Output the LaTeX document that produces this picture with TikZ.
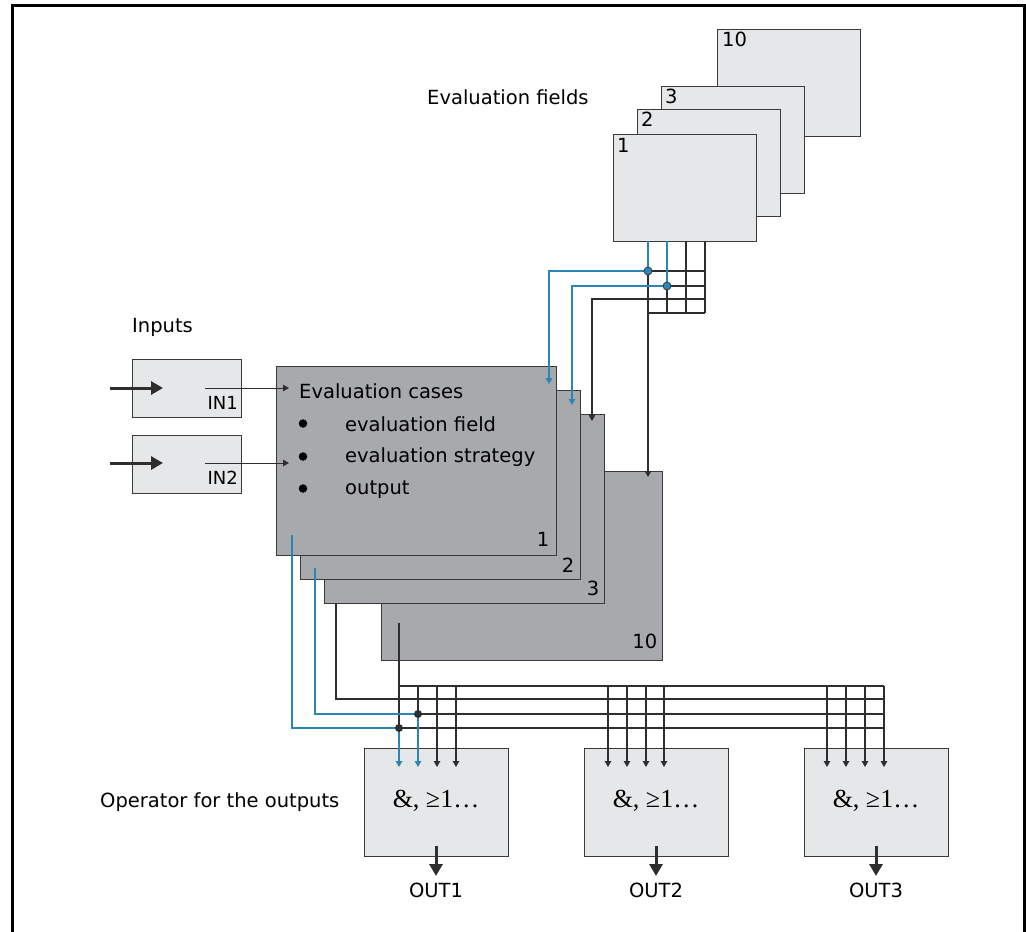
\documentclass[tikz,border=0pt]{standalone}
\usepackage{fontspec}
\setmainfont{DejaVu Sans}
\newfontfamily\opfont{Liberation Serif}
\usetikzlibrary{arrows.meta}
\definecolor{lightfill}{HTML}{E6E7E8}
\definecolor{darkfill}{HTML}{A7A9AC}
\definecolor{edge}{HTML}{3A3A3A}
\definecolor{wirec}{HTML}{2E2E2E}
\definecolor{bluec}{HTML}{2A86B5}
\newcommand\txtA{\fontsize{19.5}{23}\selectfont}
\newcommand\txtB{\fontsize{18}{21}\selectfont}
\begin{document}
\begin{tikzpicture}[x=1pt,y=-1pt,
  base box/.style={draw=edge, line width=1.4pt, inner sep=0pt, anchor=north west},
  fieldbox/.style={base box, fill=lightfill, minimum width=143pt, minimum height=107pt},
  casebox/.style={base box, fill=darkfill, minimum width=280pt, minimum height=189pt},
  inbox/.style={base box, fill=lightfill, minimum width=109pt, minimum height=58pt},
  opbox/.style={base box, fill=lightfill, minimum width=144pt, minimum height=108pt},
  wire/.style={draw=wirec, line width=1.2pt},
  bwire/.style={draw=bluec, line width=1.4pt},
  smalltip/.style={-{Triangle[length=6pt,width=6.5pt]}},
  bigtip/.style={draw=wirec, line width=3pt, -{Triangle[length=12pt,width=13pt]}},
  lab/.style={inner sep=0pt, font=\txtA},
  bulletdot/.style={circle, fill=black, inner sep=0pt, minimum size=8.5pt},
  dotb/.style={circle, fill=bluec, draw=edge, line width=0.8pt, inner sep=0pt, minimum size=8pt},
  dotk/.style={circle, fill=wirec, inner sep=0pt, minimum size=8pt},
]
\useasboundingbox (0,0) rectangle (1026,932);
\fill[white] (0,0) rectangle (1026,932);
\draw[line width=3pt, black] (12,932) -- (12,5) -- (1024,5) -- (1024,932);

% evaluation fields
\node[fieldbox] (F10) at (717,29) {};
\node[fieldbox] (F3) at (661,86) {};
\node[fieldbox] (F2) at (637,109) {};
\node[fieldbox] (F1) at (613,134) {};
\node[lab, anchor=north west] (F10l) at ([shift={(5,3)}]F10.north west) {10};
\node[lab, anchor=north west] (F3l) at ([shift={(4,3)}]F3.north west) {3};
\node[lab, anchor=north west] (F2l) at ([shift={(4,3)}]F2.north west) {2};
\node[lab, anchor=north west] (F1l) at ([shift={(4,4)}]F1.north west) {1};
\node[lab, anchor=base west] (fieldsT) at (427,104) {Evaluation fields};

% inputs
\node[lab, anchor=base west] (inputsT) at (132,332) {Inputs};
\node[inbox] (IN1) at (132,359) {};
\node[inbox] (IN2) at (132,435) {};
\node[inner sep=0pt, font=\txtB, anchor=base east] (IN1l) at (238,409) {IN1};
\node[inner sep=0pt, font=\txtB, anchor=base east] (IN2l) at (238,484) {IN2};
\coordinate (a1s) at (110,388); \coordinate (a1t) at (163,388);
\coordinate (a2s) at (110,463); \coordinate (a2t) at (163,463);
\draw[bigtip] (a1s) -- (a1t);
\draw[bigtip] (a2s) -- (a2t);

% evaluation cases
\node[casebox, minimum width=281pt] (C10) at (381,471) {};
\node[casebox] (C3) at (324,414) {};
\node[casebox] (C2) at (300,390) {};
\node[casebox] (C1) at (276,366) {};
\node[lab, anchor=south east] (C10l) at ([shift={(-6,-12)}]C10.south east) {10};
\node[lab, anchor=south east] (C3l) at ([shift={(-6,-8)}]C3.south east) {3};
\node[lab, anchor=south east] (C2l) at ([shift={(-7,-8)}]C2.south east) {2};
\node[lab, anchor=south east] (C1l) at ([shift={(-8,-10)}]C1.south east) {1};
\node[lab, anchor=base west] (casesT) at (299,398) {Evaluation cases};
\node[lab, anchor=base west] (it1) at (345,431) {evaluation field};
\node[lab, anchor=base west] (it2) at (345,462) {evaluation strategy};
\node[lab, anchor=base west] (it3) at (345,494) {output};
\node[bulletdot] (b1) at (303,423.5) {};
\node[bulletdot] (b2) at (303,456.5) {};
\node[bulletdot] (b3) at (303,488.5) {};

% input connectors
\coordinate (i1s) at (205,388); \coordinate (i1t) at (289,388);
\coordinate (i2s) at (205,463); \coordinate (i2t) at (289,463);
\draw[wire, line width=1pt, smalltip] (i1s) -- (i1t);
\draw[wire, line width=1pt, smalltip] (i2s) -- (i2t);

% operator boxes
\node[opbox] (O1) at (364,748) {};
\node[opbox] (O2) at (584,748) {};
\node[opbox] (O3) at (804,748) {};
\node[inner sep=0pt, font=\opfont\fontsize{26}{26}\selectfont, anchor=base] (O1t) at (436,807) {\&, ≥1…};
\node[inner sep=0pt, font=\opfont\fontsize{26}{26}\selectfont, anchor=base] (O2t) at (656,807) {\&, ≥1…};
\node[inner sep=0pt, font=\opfont\fontsize{26}{26}\selectfont, anchor=base] (O3t) at (876,807) {\&, ≥1…};
\node[lab, anchor=base west] (opT) at (100,807) {Operator for the outputs};
\foreach \n/\x in {1/436,2/656,3/876}{
  \coordinate (o\n s) at (\x,846);
  \coordinate (o\n t) at (\x,876);
  \draw[bigtip] (o\n s) -- (o\n t);
  \node[lab, anchor=base] (OUT\n) at (\x,897) {OUT\n};
}

% ---- top wiring
\coordinate (p1) at (648,241); \coordinate (p2) at (667,241);
\coordinate (p3) at (686,241); \coordinate (p4) at (705,241);
\coordinate (j1) at (648,271); \coordinate (j2) at (667,286);
\coordinate (r1) at (705,271); \coordinate (r2) at (705,286);
\coordinate (r3) at (705,299); \coordinate (r4) at (705,313);
\coordinate (g2) at (667,313); \coordinate (g3) at (686,313);
\coordinate (g1) at (648,313);
\coordinate (t1) at (549,384); \coordinate (t2) at (572,405);
\coordinate (t3) at (592,421); \coordinate (t4) at (648,477);
\draw[wire] (j1) -- (r1);
\draw[wire] (j2) -- (r2);
\draw[wire] (g1) -- (r4);
\draw[wire] (p3) -- (g3);
\draw[wire] (p4) -- (r4);
\draw[wire] (j2) -- (g2);
\draw[wire, smalltip] (r3) -| (t3);
\draw[wire, smalltip] (j1) -- (t4);
\draw[bwire, smalltip] (p1) -- (j1) -| (t1);
\draw[bwire, smalltip] (p2) -- (j2) -| (t2);
\node[dotb] (d1) at (j1) {};
\node[dotb] (d2) at (j2) {};

% ---- bottom wiring
\coordinate (s1) at (292,535); \coordinate (s2) at (315,568);
\coordinate (s3) at (336,603); \coordinate (s4) at (399,623);
\coordinate (k1) at (399,728); \coordinate (k2) at (418,714);
\coordinate (e1) at (884,686); \coordinate (e2) at (884,699);
\coordinate (e3) at (884,714); \coordinate (e4) at (884,728);
\coordinate (m1) at (399,767); \coordinate (m2) at (418,767);
\coordinate (h1) at (418,686);
\draw[wire] (s4) |- (e1);
\draw[wire] (s3) |- (e2);
\draw[wire] (k2) -- (e3);
\draw[wire] (k1) -- (e4);
\draw[wire] (h1) -- (k2);
\foreach \x in {437,456,608,627,646,664,827,846,865,884}{
  \draw[wire, smalltip] (\x,686) -- (\x,767);
}
\draw[wire] (399,686) -- (k1);
\draw[bwire, smalltip] (s1) |- (k1) -- (m1);
\draw[bwire, smalltip] (s2) |- (k2) -- (m2);
\node[dotk] (d3) at (k1) {};
\node[dotk] (d4) at (k2) {};
\end{tikzpicture}
\end{document}
